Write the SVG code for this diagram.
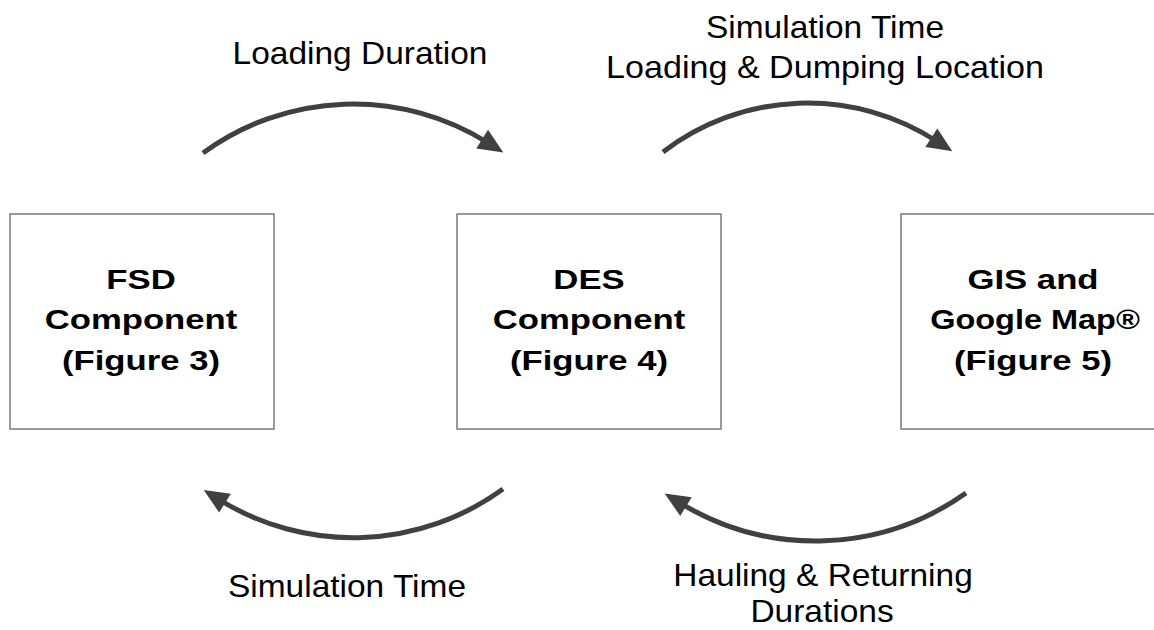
<svg xmlns="http://www.w3.org/2000/svg" width="1154" height="630" viewBox="0 0 1154 630">
  <style>
    .box { fill: #ffffff; stroke: #7a7a7a; stroke-width: 1.5; }
    .bt { font-family: "Liberation Sans", Arial, sans-serif; font-weight: bold; font-size: 28px; fill: #000; text-anchor: middle; }
    .lt { font-family: "Liberation Sans", Arial, sans-serif; font-size: 31px; fill: #000; text-anchor: middle; }
    .arc { fill: none; stroke: #404040; stroke-width: 5; marker-end: url(#ah); }
  </style>
  <defs>
    <marker id="ah" markerUnits="userSpaceOnUse" markerWidth="40" markerHeight="40" refX="0" refY="0" orient="auto" overflow="visible" viewBox="-20 -20 40 40">
      <path d="M-7,-11 L18,0 L-7,11 Z" fill="#404040"/>
    </marker>
  </defs>
  <rect width="1154" height="630" fill="#ffffff"/>

  <g id="fsd">
    <rect class="box" x="10" y="214" width="264" height="215"/>
    <text class="bt" transform="translate(141,289) scale(1.24,1)">FSD</text>
    <text class="bt" transform="translate(141,329) scale(1.24,1)">Component</text>
    <text class="bt" transform="translate(141,370) scale(1.24,1)">(Figure 3)</text>
  </g>
  <g id="des">
    <rect class="box" x="457" y="214" width="264" height="215"/>
    <text class="bt" transform="translate(589,289) scale(1.24,1)">DES</text>
    <text class="bt" transform="translate(589,329) scale(1.24,1)">Component</text>
    <text class="bt" transform="translate(589,370) scale(1.24,1)">(Figure 4)</text>
  </g>
  <g id="gis">
    <rect class="box" x="901" y="214" width="264" height="215"/>
    <text class="bt" transform="translate(1033,289) scale(1.24,1)">GIS and</text>
    <text class="bt" transform="translate(1035,329) scale(1.16,1)">Google Map®</text>
    <text class="bt" transform="translate(1033,370) scale(1.24,1)">(Figure 5)</text>
  </g>

  <g id="connectors">
    <path class="arc" d="M203,153 A254,254 0 0 1 488.1,142.9"/>
    <path class="arc" d="M663,152 A237.6,237.6 0 0 1 937.2,141.5"/>
    <path class="arc" d="M503,489 A254.7,254.7 0 0 1 219,499.5"/>
    <path class="arc" d="M966,493 A259.9,259.9 0 0 1 680,502.9"/>
    <text class="lt" transform="translate(360,64) scale(1.08,1)">Loading Duration</text>
    <text class="lt" transform="translate(825,38) scale(1.08,1)">Simulation Time</text>
    <text class="lt" transform="translate(825,78) scale(1.1,1)">Loading &amp; Dumping Location</text>
    <text class="lt" transform="translate(347,597) scale(1.08,1)">Simulation Time</text>
    <text class="lt" transform="translate(823,586) scale(1.08,1)">Hauling &amp; Returning</text>
    <text class="lt" transform="translate(822,622) scale(1.08,1)">Durations</text>
  </g>
</svg>
